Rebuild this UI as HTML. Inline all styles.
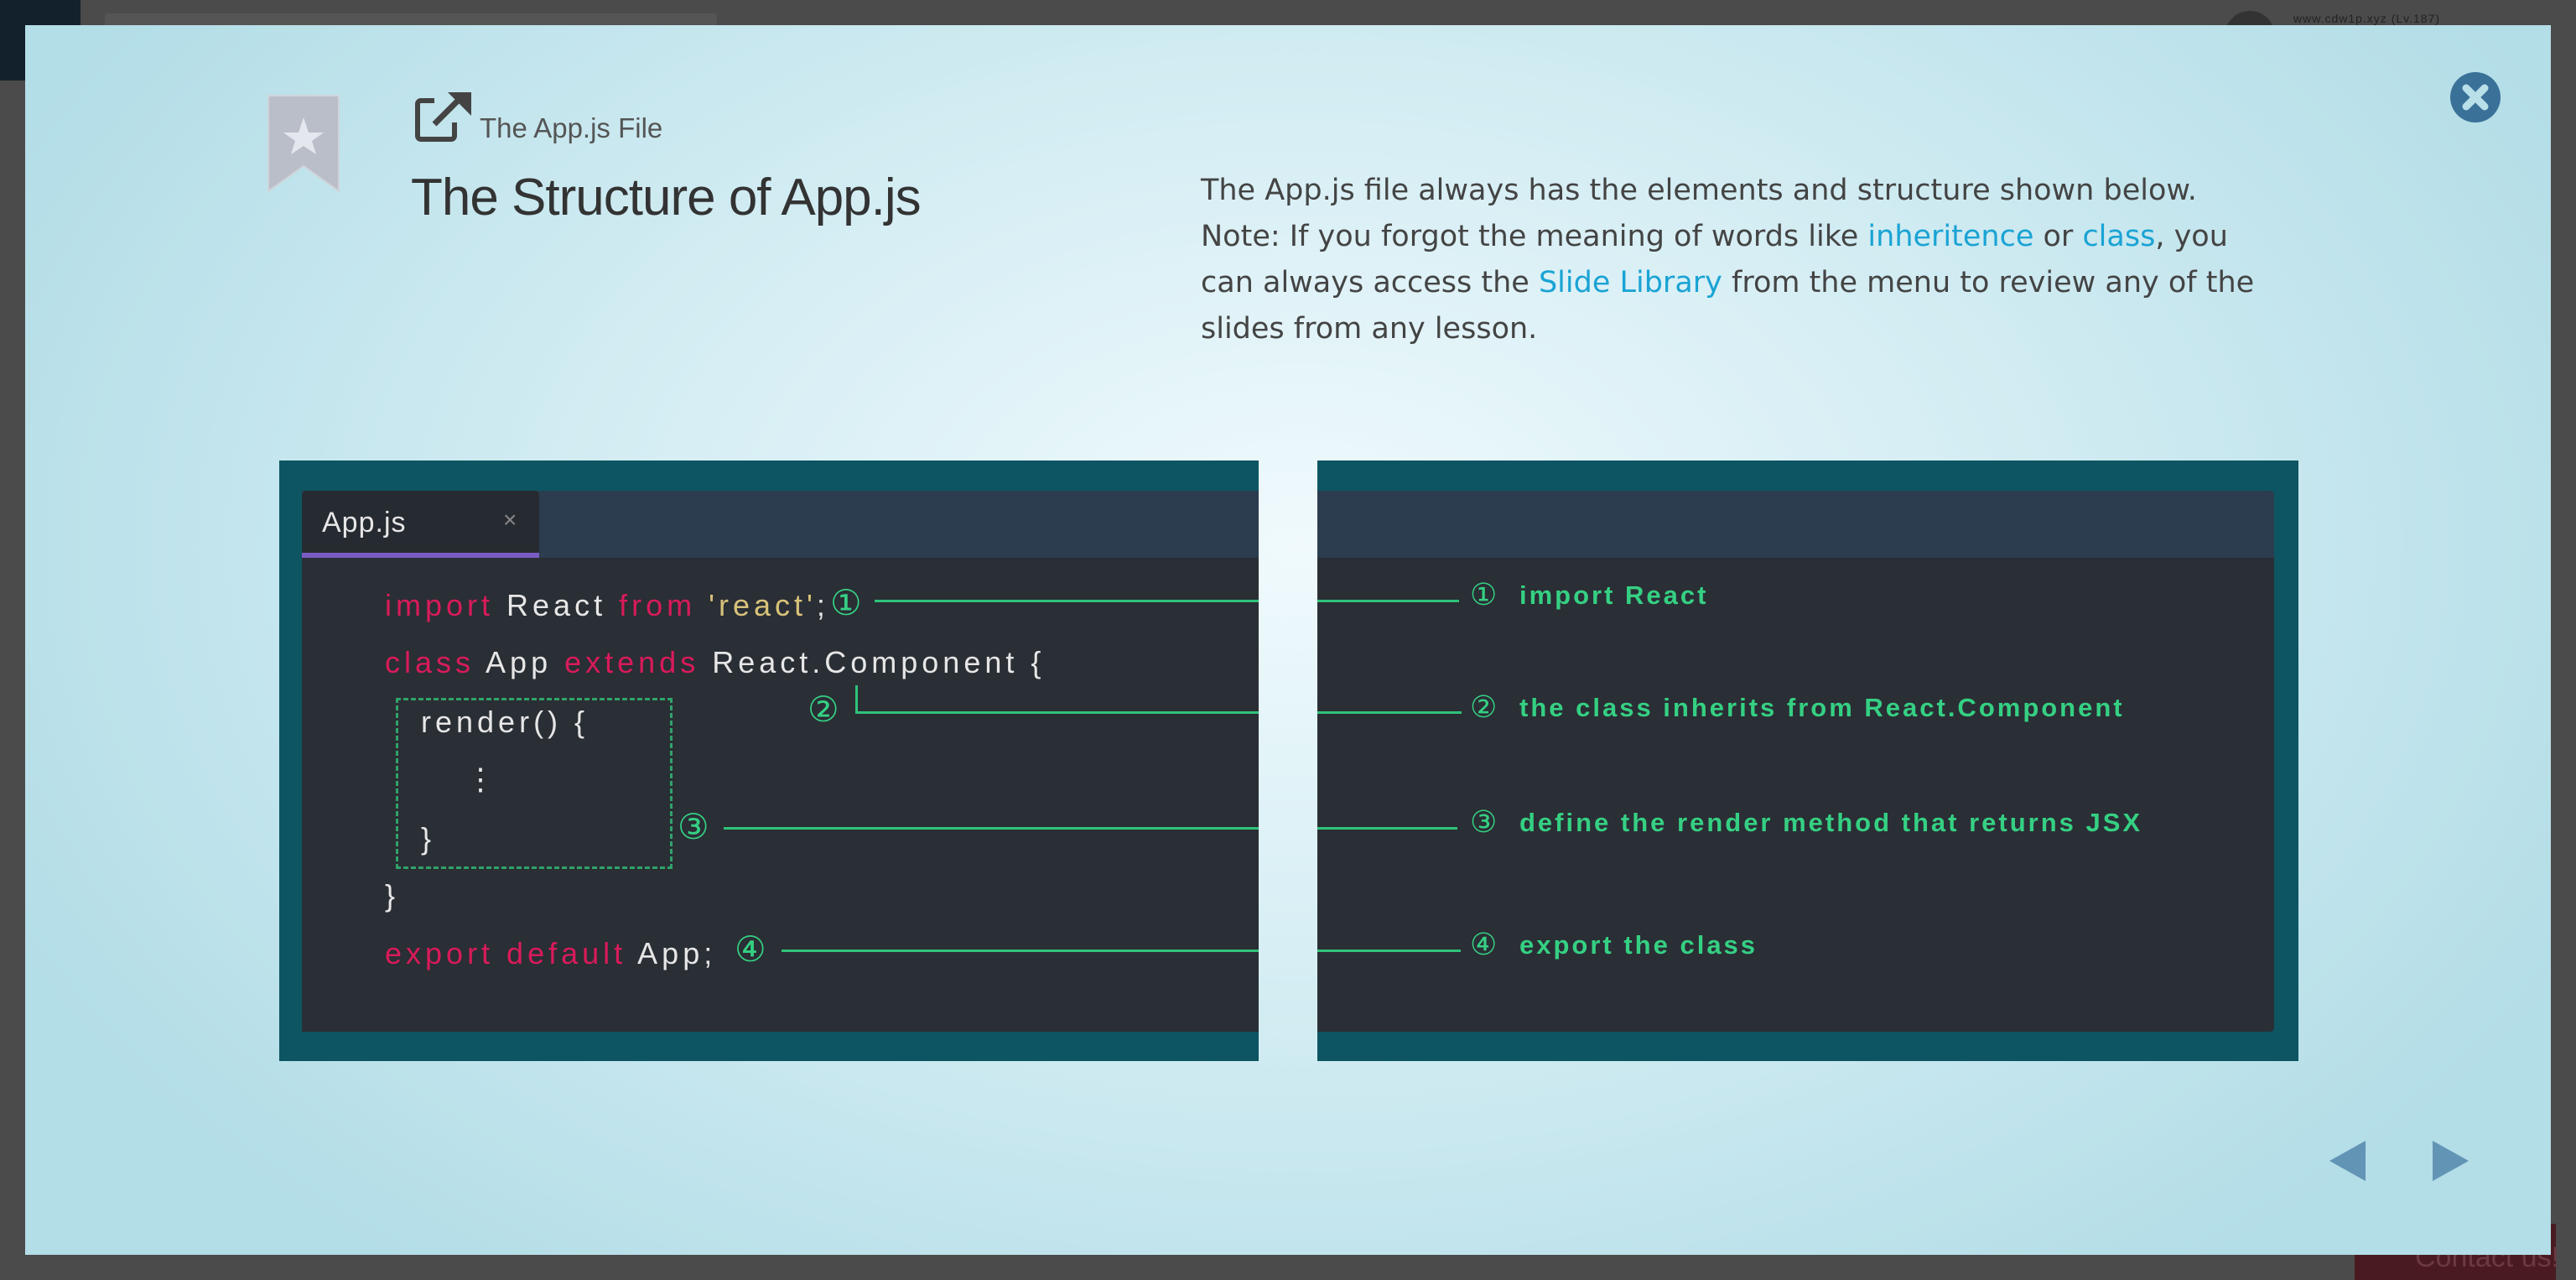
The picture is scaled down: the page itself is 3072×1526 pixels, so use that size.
<!DOCTYPE html>
<html><head><meta charset="utf-8"><style>
*{margin:0;padding:0;box-sizing:border-box}
body{width:3072px;height:1526px;background:#4b4b4b;position:relative;overflow:hidden;font-family:"Liberation Sans",sans-serif}
.a{position:absolute}
#modal{left:30px;top:30px;width:3012px;height:1466px;background:radial-gradient(ellipse 1700px 1100px at 1520px 620px,#f0fafd 0%,#d6eef4 45%,#b3dde7 100%)}
.code{font-family:"Liberation Sans",sans-serif;font-size:36px;color:#e6e6e6;letter-spacing:5px;white-space:nowrap;line-height:40px}
.k{color:#d81b5a}.s{color:#d8c27a}
.g{background:#2fc27a;height:3px}
.lbl{font-family:"Liberation Sans",sans-serif;font-weight:bold;font-size:31px;color:#35d083;letter-spacing:3px;white-space:nowrap;line-height:40px}
.num{font-family:"DejaVu Sans",sans-serif;font-size:42px;color:#35d083;line-height:48px}
p.t{font-family:"DejaVu Sans",sans-serif;font-size:35px;color:#444;line-height:55px;white-space:nowrap}
.lnk{color:#1aa3d4}
</style></head><body>
<div class="a" style="left:0;top:0;width:96px;height:96px;background:#13212c"></div>
<div class="a" style="left:125px;top:16px;width:730px;height:20px;background:#555;border-radius:4px"></div>
<div class="a" style="left:2653px;top:13px;width:60px;height:60px;border-radius:50%;background:#333"></div>
<div class="a" style="left:2735px;top:14px;font-size:14px;color:#222;letter-spacing:1px">www.cdw1p.xyz (Lv.187)</div>
<div class="a" style="left:2808px;top:1459px;width:240px;height:67px;background:#4a1a22"></div>
<div class="a" style="left:2880px;top:1480px;font-size:34px;color:#6a3a40">Contact us!</div>
<div id="modal" class="a"></div>

<svg class="a" style="left:318px;top:112px" width="88" height="120"><path d="M2 2H86V116L44 86L2 116Z" fill="#b9bec8" stroke="#d0d4da" stroke-width="2"/><polygon points="44,28 50,46 68,46 54,56 59,72 44,62 29,72 34,56 20,46 38,46" fill="#e4e7ee"/></svg>
<svg class="a" style="left:494px;top:108px" width="70" height="62"><path d="M24 12H8a4 4 0 0 0-4 4V54a4 4 0 0 0 4 4H44a4 4 0 0 0 4-4V38" fill="none" stroke="#444" stroke-width="6"/><path d="M24 40L58 6" stroke="#444" stroke-width="7"/><polygon points="40,2 68,2 68,30" fill="#444"/></svg>
<div class="a" style="left:572px;top:134px;font-size:33px;color:#555">The App.js File</div>
<div class="a" style="left:490px;top:200px;font-size:62px;color:#333;letter-spacing:-1px">The Structure of App.js</div>
<p class="a t" style="left:1432px;top:200px">The App.js file always has the elements and structure shown below.<br>Note: If you forgot the meaning of words like <span class="lnk">inheritence</span> or <span class="lnk">class</span>, you<br>can always access the <span class="lnk">Slide Library</span> from the menu to review any of the<br>slides from any lesson.</p>

<svg class="a" style="left:2922px;top:86px" width="60" height="60"><circle cx="30" cy="30" r="30" fill="#3a7199"/><path d="M19 19L41 41M41 19L19 41" stroke="#b9dfe8" stroke-width="9" stroke-linecap="round"/></svg>
<svg class="a" style="left:2770px;top:1355px" width="190" height="60"><polygon points="8,29 51,5 51,53" fill="#6294b5"/><polygon points="131,5 131,53 174,29" fill="#6294b5"/></svg>

<div class="a" style="left:333px;top:549px;width:1168px;height:716px;background:#0d5563"></div>
<div class="a" style="left:360px;top:585px;width:1141px;height:645px;background:#2a2e35"></div>
<div class="a" style="left:360px;top:585px;width:1141px;height:80px;background:#2b3d4f"></div>
<div class="a" style="left:360px;top:585px;width:283px;height:80px;background:#262a31;border-radius:5px 5px 0 0"></div>
<div class="a" style="left:360px;top:659px;width:283px;height:6px;background:#7a5cc4"></div>
<div class="a code" style="left:384px;top:603px;font-size:34px;letter-spacing:1px">App.js</div>
<div class="a" style="left:600px;top:604px;font-size:28px;color:#888">×</div>

<div class="a code" style="left:459px;top:702px"><span class="k">import</span> React <span class="k">from</span> <span class="s">'react'</span>;</div>
<div class="a code" style="left:459px;top:770px"><span class="k">class</span> App <span class="k">extends</span> React.Component {</div>
<div class="a code" style="left:502px;top:841px">render() {</div>
<div class="a code" style="left:555px;top:909px">⋮</div>
<div class="a code" style="left:502px;top:980px">}</div>
<div class="a code" style="left:459px;top:1048px">}</div>
<div class="a code" style="left:459px;top:1117px"><span class="k">export default</span> App;</div>
<div class="a" style="left:472px;top:832px;width:330px;height:204px;border:3px dashed #2fa36a"></div>

<div class="a num" style="left:990px;top:695px">①</div>
<div class="a g" style="left:1043px;top:715px;width:458px"></div>
<div class="a num" style="left:963px;top:822px">②</div>
<div class="a" style="left:1020px;top:817px;width:3px;height:33px;background:#2fc27a"></div>
<div class="a g" style="left:1020px;top:848px;width:481px"></div>
<div class="a num" style="left:808px;top:962px">③</div>
<div class="a g" style="left:863px;top:986px;width:638px"></div>
<div class="a num" style="left:876px;top:1108px">④</div>
<div class="a g" style="left:932px;top:1132px;width:569px"></div>

<div class="a" style="left:1571px;top:549px;width:1170px;height:716px;background:#0d5563"></div>
<div class="a" style="left:1571px;top:585px;width:1141px;height:645px;background:#2a2e35;border-radius:0 5px 5px 0"></div>
<div class="a" style="left:1571px;top:585px;width:1141px;height:80px;background:#2b3d4f;border-radius:0 5px 0 0"></div>

<div class="a g" style="left:1571px;top:715px;width:169px"></div>
<div class="a g" style="left:1571px;top:848px;width:172px"></div>
<div class="a g" style="left:1571px;top:986px;width:167px"></div>
<div class="a g" style="left:1571px;top:1132px;width:171px"></div>
<div class="a num" style="left:1753px;top:686px;font-size:36px">①</div>
<div class="a num" style="left:1753px;top:820px;font-size:36px">②</div>
<div class="a num" style="left:1753px;top:957px;font-size:36px">③</div>
<div class="a num" style="left:1753px;top:1103px;font-size:36px">④</div>
<div class="a lbl" style="left:1812px;top:690px">import React</div>
<div class="a lbl" style="left:1812px;top:824px">the class inherits from React.Component</div>
<div class="a lbl" style="left:1812px;top:961px">define the render method that returns JSX</div>
<div class="a lbl" style="left:1812px;top:1107px">export the class</div>
</body></html>
